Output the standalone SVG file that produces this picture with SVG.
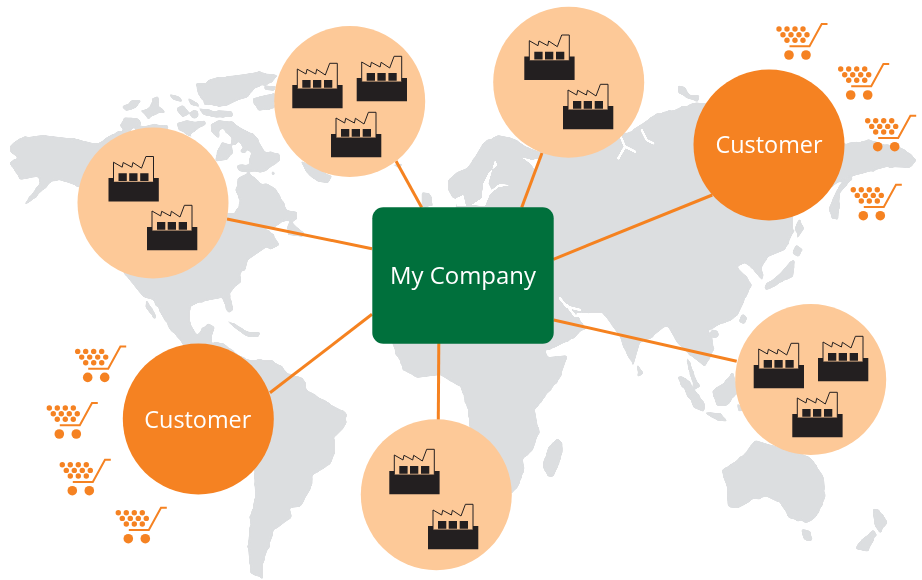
<svg xmlns="http://www.w3.org/2000/svg" xmlns:xlink="http://www.w3.org/1999/xlink" width="922" height="580" viewBox="0 0 922 580">
<style>
.land{fill:#dcdee0}
.cut{fill:#fff}
.cl{fill:none;stroke:#fff;stroke-width:7;stroke-linecap:round;stroke-linejoin:round}
.conn{stroke:#f58220;stroke-width:3;fill:none}
.site{fill:#fdc998}
.cust{fill:#f58222}
.lbl{font-family:"Open Sans","Noto Sans",sans-serif;font-size:24px;fill:#fff}
</style>
<defs>
<filter id="soft" filterUnits="userSpaceOnUse" x="0" y="0" width="922" height="580" color-interpolation-filters="sRGB">
<feTurbulence type="fractalNoise" baseFrequency="0.14" numOctaves="2" seed="4" result="n"/>
<feDisplacementMap in="SourceGraphic" in2="n" scale="3" xChannelSelector="R" yChannelSelector="G"/>
<feGaussianBlur stdDeviation="1.3"/>
<feComponentTransfer><feFuncA type="linear" slope="6" intercept="-2.5"/></feComponentTransfer>
</filter>
<filter id="softcut" filterUnits="userSpaceOnUse" x="0" y="0" width="922" height="580" color-interpolation-filters="sRGB">
<feGaussianBlur stdDeviation="0.5"/>
<feComponentTransfer><feFuncA type="linear" slope="4" intercept="-1.3"/></feComponentTransfer>
</filter>
<g id="factory">
<path d="M0 21.600H5V25.300H45V21.600H50.300V45H0Z" fill="#231f20"/>
<path d="M5 25.300V5.700L13.700 10.700L14.700 6L23.400 10.700L24.400 6L33 11.700L37.400 0H45V25.300" fill="none" stroke="#231f20" stroke-width="1"/>
<path d="M10 16.700h8.300v7.700h-8.300zM20.700 16.700h8.300v7.700h-8.300zM31.700 16.700h8.300v7.700h-8.300z" fill="#231f20"/>
</g>
<g id="cart" fill="#f58222">
<circle cx="9" cy="14" r="2.700"/><circle cx="17" cy="14" r="2.700"/><circle cx="25" cy="14" r="2.700"/><circle cx="33" cy="14" r="2.700"/>
<circle cx="13" cy="19.700" r="2.700"/><circle cx="21" cy="19.700" r="2.700"/><circle cx="29" cy="19.700" r="2.700"/><circle cx="37" cy="19.700" r="2.700"/>
<circle cx="17" cy="25.300" r="2.700"/><circle cx="25" cy="25.300" r="2.700"/><circle cx="33" cy="25.300" r="2.700"/>
<circle cx="19" cy="40" r="4.800"/><circle cx="36" cy="40" r="4.800"/>
<path d="M19.500 31.300H39.500L51.700 9H57.500" fill="none" stroke="#f58222" stroke-width="2"/>
</g>
</defs>
<g id="map">
<g filter="url(#soft)">
<path class="land" d="M10 145L20 138L43 135L77 139L97 144L110 135L125 130L215 165L215 213L235 213L240 200L235 190L238 183L237 178L248 173L262 183L275 187L282 200L287 210L297 212L297 220L292 222L297 227L305 233L303 237L288 235L287 227L290 220L283 222L275 227L265 228L272 233L280 245L270 250L267 247L248 260L245 272L242 270L240 283L230 292L232 305L229 312L224 303L222 298L200 302L190 307L190 323L197 335L208 323L215 327L210 342L223 343L247 360L253 360L273 360L287 372L303 378L308 390L328 403L347 413L347 425L335 437L335 453L330 465L313 475L312 487L300 507L290 508L292 517L275 530L270 543L263 563L263 580L250 573L248 547L250 517L255 497L254 470L200 420L183 343L170 330L153 300L143 297L127 277L100 240L80 187L60 180L50 183L33 200L22 207L40 183L37 177L20 180L15 172L10 162L18 158L10 152Z"/>
<path class="land" d="M392 343L403 370L417 378L440 375L460 387L468 410L470 430L490 500L512 493L518 487L525 470L523 460L533 450L539 433L535 410L560 378L568 355L548 357L545 350L550 350L570 340L587 328L575 313L592 313L603 313L620 337L623 347L633 367L640 343L652 337L667 325L677 343L690 355L705 367L715 348L708 330L717 327L737 317L745 300L753 283L747 277L737 267L745 263L753 270L763 282L762 267L768 257L785 250L793 233L793 217L800 205L825 190L850 177L887 167L910 168L917 160L903 148L870 140L845 143L800 100L705 103L693 103L673 110L657 113L643 123L627 133L540 152L527 147L513 138L498 135L483 143L473 160L467 168L457 172L448 180L448 190L452 197L457 200L455 210L440 240L400 320Z"/>
<g transform="translate(115,65) scale(.3333)">
<path class="land" d="M20 125L50 105L80 105L70 125L35 140Z"/>
<path class="land" d="M75 135L105 125L110 100L130 92L135 125L155 140L120 150L100 165L90 150Z"/>
<path class="land" d="M15 180L30 157L70 160L80 175L55 190L30 205Z"/>
<path class="land" d="M60 185L100 178L160 180L160 195L60 200Z"/>
<path class="land" d="M158 85L195 95L205 112L175 105Z"/>
<path class="land" d="M215 95L250 115L255 130L230 120Z"/>
<path class="land" d="M180 130L205 120L225 145L200 155Z"/>
<circle class="land" cx="238" cy="148" r="13"/>
<path class="land" d="M250 130L300 135L350 138L355 155L300 158L265 150Z"/>
<path class="land" d="M240 55L270 55L280 45L310 35L370 30L430 20L490 30L470 55L420 70L400 95L360 110L330 125L270 120L250 90Z"/>
<path class="land" d="M415 100L450 90L480 85L480 130L430 138L420 120Z"/>
<path class="land" d="M445 65L485 60L478 78L450 75Z"/>
<path class="land" d="M185 175L215 165L240 170L270 165L275 180L250 190L225 210L270 240L225 215L190 195Z"/>
<path class="land" d="M285 180L310 165L350 170L380 190L420 210L450 260L495 265L495 285L450 320L370 320L365 300L405 295L405 260L350 220L320 190L310 220L285 200Z"/>
<path class="land" d="M320 230L350 240L355 265L335 285L300 290L305 260Z"/>
<circle class="land" cx="358" cy="232" r="9"/>
<circle class="land" cx="386" cy="257" r="8"/>
<circle class="land" cx="475" cy="323" r="6"/>
</g>
<g transform="translate(0,20) scale(.3333)">
<path class="land" d="M900 420L1000 470L985 490L950 485L920 460Z"/>
<path class="land" d="M1170 435L1210 430L1200 445Z"/>
<path class="land" d="M1265 515L1290 520L1300 560L1265 560Z"/>
</g>
<g transform="translate(460,20) scale(.3333)">
<path class="land" d="M650 195L675 200L690 225L720 225L715 245L680 235L655 220Z"/>
<path class="land" d="M1160 470L1178 475L1140 520L1135 600L1115 600L1108 560L1130 510Z"/>
<path class="land" d="M1005 720L1000 770L960 790L920 815L912 800L960 760L990 725Z"/>
<path class="land" d="M1020 590L1030 630L1010 660L1005 620Z"/>
<path class="land" d="M1010 670L1033 690L1015 712L995 700Z"/>
</g>
<g transform="translate(0,300) scale(.3333)">
<path class="land" d="M670 0L695 0L700 30L685 40Z"/>
<path class="land" d="M440 0L472 50L465 60L435 20Z"/>
<path class="land" d="M670 55L720 80L745 95L780 95L780 112L740 110L705 85Z"/>
</g>
<g transform="translate(460,300) scale(.3333)">
<path class="land" d="M680 165L695 200L722 260L705 268L680 200Z"/>
<path class="land" d="M650 228L680 235L737 315L730 337L700 320Z"/>
<path class="land" d="M755 270L790 250L820 215L835 280L800 318L770 318Z"/>
<path class="land" d="M730 337L780 337L805 365L770 362Z"/>
<path class="land" d="M530 188L552 220L535 232Z"/>
<path class="land" d="M295 415L308 430L308 460L282 530L260 530L248 495L265 440Z"/>
<path class="land" d="M885 420L1050 470L1092 530L1097 590L1072 650L1040 670L990 655L960 610L920 590L880 600L830 628L803 618L800 570L785 510L850 465Z"/>
<path class="land" d="M1022 687L1052 692L1055 720L1032 720Z"/>
<path class="land" d="M1238 622L1257 632L1285 665L1262 698L1245 680L1240 650Z"/>
<path class="land" d="M1240 688L1252 705L1222 755L1186 748L1195 728Z"/>
<path class="land" d="M850 40L863 55L850 73L836 65Z"/>
<circle class="land" cx="765" cy="102" r="12"/>
<path class="land" d="M830 305L852 330L835 338Z"/>
</g>
</g>
<g filter="url(#softcut)">
<g transform="translate(440,120) scale(.3333)">
<path class="cut" d="M165 120L172 135L145 160L130 190L125 235L95 255L135 258L150 222L175 202L212 195L178 192L155 210L145 190Z"/>
<path class="cut" d="M48 235L70 225L78 258L50 258Z"/>
<path class="cut" d="M245 112L275 120L305 115L288 152L270 130Z"/>
</g>
<g transform="translate(460,20) scale(.3333)">
<path class="cl" d="M475 415L495 380L482 350M495 380L525 395M545 330L560 360L580 370"/>
<path class="cl" d="M300 835L320 860L360 870"/>
</g>
<g transform="translate(460,300) scale(.3333)">
<path class="cl" d="M320 15L345 48L380 45"/>
</g>
</g>
</g>
<g id="connectors">
<path class="conn" d="M227 219L372 248.700"/>
<path class="conn" d="M396 161L421.700 207.500"/>
<path class="conn" d="M542 153L521.700 207.500"/>
<path class="conn" d="M553.300 259.300L712.300 195"/>
<path class="conn" d="M553.700 320L736.700 361.300"/>
<path class="conn" d="M438.800 343L438.300 420"/>
<path class="conn" d="M372 314.300L270 392.700"/>
</g>
<g id="hub">
<rect x="372.300" y="207.300" width="181.400" height="136.400" rx="11" fill="#00703c"/>
<text class="lbl" x="390" y="283.500" textLength="146" lengthAdjust="spacingAndGlyphs">My Company</text>
</g>
<g id="sites-nw">
<circle class="site" cx="153" cy="203" r="75.500"/>
<use xlink:href="#factory" x="108.500" y="156.500"/>
<use xlink:href="#factory" x="147" y="205.300"/>
</g>
<g id="sites-n">
<circle class="site" cx="349.700" cy="101.500" r="75.500"/>
<use xlink:href="#factory" x="292.300" y="63.300"/>
<use xlink:href="#factory" x="356.700" y="56.300"/>
<use xlink:href="#factory" x="331" y="112.300"/>
</g>
<g id="sites-ne">
<circle class="site" cx="568.700" cy="82.300" r="75.500"/>
<use xlink:href="#factory" x="524.300" y="35"/>
<use xlink:href="#factory" x="563" y="84.300"/>
</g>
<g id="sites-se">
<circle class="site" cx="810.700" cy="379.500" r="75.500"/>
<use xlink:href="#factory" x="753.700" y="343.300"/>
<use xlink:href="#factory" x="818" y="336.300"/>
<use xlink:href="#factory" x="792.300" y="392.300"/>
</g>
<g id="sites-s">
<circle class="site" cx="436.300" cy="494.700" r="75.500"/>
<use xlink:href="#factory" x="389.300" y="449.300"/>
<use xlink:href="#factory" x="428" y="504.300"/>
</g>
<g id="customer-east">
<circle class="cust" cx="769" cy="145" r="75.500"/>
<text class="lbl" x="715.500" y="153.300" textLength="107" lengthAdjust="spacingAndGlyphs">Customer</text>
<use xlink:href="#cart" x="770" y="15"/>
<use xlink:href="#cart" x="831.700" y="55"/>
<use xlink:href="#cart" x="858.700" y="106.700"/>
<use xlink:href="#cart" x="844.300" y="175.700"/>
</g>
<g id="customer-west">
<circle class="cust" cx="198.300" cy="419" r="75.500"/>
<text class="lbl" x="144.300" y="427.700" textLength="107" lengthAdjust="spacingAndGlyphs">Customer</text>
<use xlink:href="#cart" x="68.700" y="337.400"/>
<use xlink:href="#cart" x="40.300" y="394"/>
<use xlink:href="#cart" x="53.300" y="450.700"/>
<use xlink:href="#cart" x="109.300" y="498.700"/>
</g>
</svg>
